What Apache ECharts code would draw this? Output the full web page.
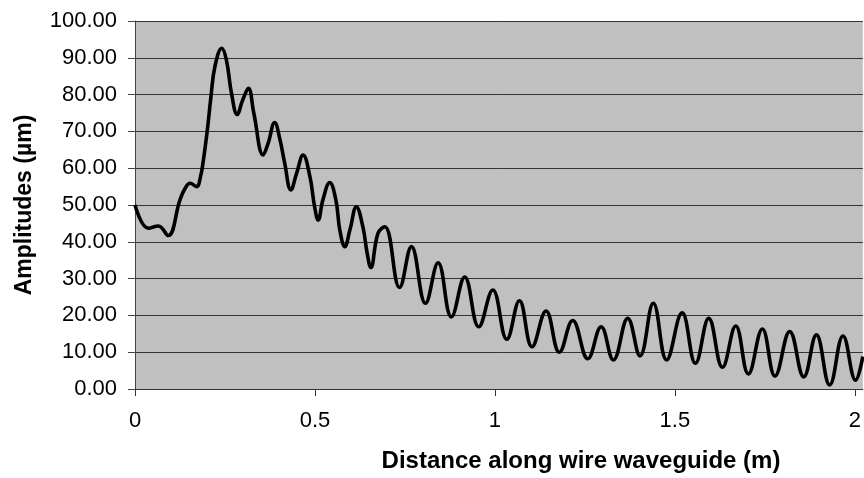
<!DOCTYPE html>
<html>
<head>
<meta charset="utf-8">
<script src="https://cdn.jsdelivr.net/npm/echarts@6/dist/echarts.min.js"></script>
<style>
  html, body { margin: 0; padding: 0; background: #fff; }
  #chart { width: 864px; height: 478px; }
</style>
</head>
<body>
<div id="chart"></div>
<script>
// ─── Data ─────────────────────────────────────────

const distances = [
  0.000, 0.037, 0.065, 0.092, 0.125, 0.139, 0.153, 0.171, 0.182, 0.190,
  0.201, 0.211, 0.222, 0.241, 0.254, 0.268, 0.284, 0.299, 0.315, 0.330,
  0.356, 0.370, 0.388, 0.402, 0.416, 0.433, 0.449, 0.467, 0.486, 0.499,
  0.509, 0.522, 0.541, 0.558, 0.569, 0.583, 0.597, 0.615, 0.633, 0.645,
  0.655, 0.675, 0.694, 0.735, 0.768, 0.807, 0.842, 0.879, 0.916, 0.955,
  0.994, 1.033, 1.068, 1.103, 1.142, 1.179, 1.216, 1.258, 1.295, 1.329,
  1.369, 1.403, 1.440, 1.477, 1.520, 1.557, 1.594, 1.632, 1.669, 1.704,
  1.743, 1.778, 1.819, 1.858, 1.893, 1.930, 1.967, 2.002, 2.022
];

const amplitudes = [
  50.0, 43.7, 44.3, 41.7, 51.4, 54.5, 55.9, 55.0, 57.7, 62.2,
  70.4, 79.4, 87.6, 92.6, 89.4, 80.4, 74.6, 78.5, 81.7, 75.0,
  63.6, 66.8, 72.4, 68.1, 61.3, 54.1, 58.6, 63.6, 57.7, 49.5,
  45.9, 51.4, 56.1, 51.4, 43.2, 38.7, 43.2, 49.5, 44.1, 36.9,
  33.0, 42.3, 44.1, 27.6, 38.7, 23.3, 34.3, 19.6, 30.4, 16.9,
  26.9, 13.5, 24.0, 11.5, 21.2, 10.0, 18.6, 8.2, 16.9, 7.9,
  19.2, 9.0, 23.3, 7.9, 20.7, 7.0, 19.2, 5.9, 17.1, 4.1,
  16.3, 3.5, 15.6, 3.3, 14.7, 1.1, 14.4, 2.4, 8.8
];

const xTicks = [0, 0.5, 1, 1.5, 2];
const xTitle = 'Distance along wire waveguide (m)';
const yTitle = 'Amplitudes (µm)';

// ─── Chart ────────────────────────────────────────

const FONT = "'Liberation Sans', Arial, sans-serif";
const chart = echarts.init(document.getElementById('chart'), null, { renderer: 'canvas' });

chart.setOption({
  animation: false,
  backgroundColor: '#ffffff',
  title: {
    text: xTitle,
    left: 581,
    top: 449,
    textAlign: 'center',
    padding: 0,
    textStyle: { fontFamily: FONT, fontSize: 24, fontWeight: 'bold', color: '#000' }
  },
  grid: {
    left: 135, right: 0, top: 21, bottom: 89,
    show: true, backgroundColor: '#c0c0c0', borderWidth: 0
  },
  xAxis: {
    type: 'value',
    min: 0,
    max: 2.022,
    interval: 0.5,
    axisLine: { show: true, onZero: false, lineStyle: { color: '#333', width: 1 } },
    axisTick: { show: true, length: 7, lineStyle: { color: '#333' } },
    splitLine: { show: false },
    axisLabel: {
      margin: 21,
      showMaxLabel: false,
      fontFamily: FONT, fontSize: 22, color: '#000',
      formatter: v => xTicks.includes(v) ? String(v) : ''
    }
  },
  yAxis: {
    type: 'value',
    min: 0,
    max: 100,
    interval: 10,
    name: yTitle,
    nameLocation: 'middle',
    nameGap: 99,
    nameTextStyle: { fontFamily: FONT, fontSize: 23, fontWeight: 'bold', color: '#000' },
    axisLine: { show: true, lineStyle: { color: '#444', width: 1 } },
    axisTick: { show: true, length: 7, lineStyle: { color: '#444' } },
    splitLine: { show: true, lineStyle: { color: '#333', width: 1 } },
    axisLabel: {
      margin: 18,
      fontFamily: FONT, fontSize: 22, color: '#000',
      formatter: v => v.toFixed(2)
    }
  },
  series: [{
    type: 'line',
    data: distances.map((d, i) => [d, amplitudes[i]]),
    smooth: 0.42,
    showSymbol: false,
    lineStyle: { color: '#000', width: 3.6 },
    clip: true
  }]
});
</script>
</body>
</html>
